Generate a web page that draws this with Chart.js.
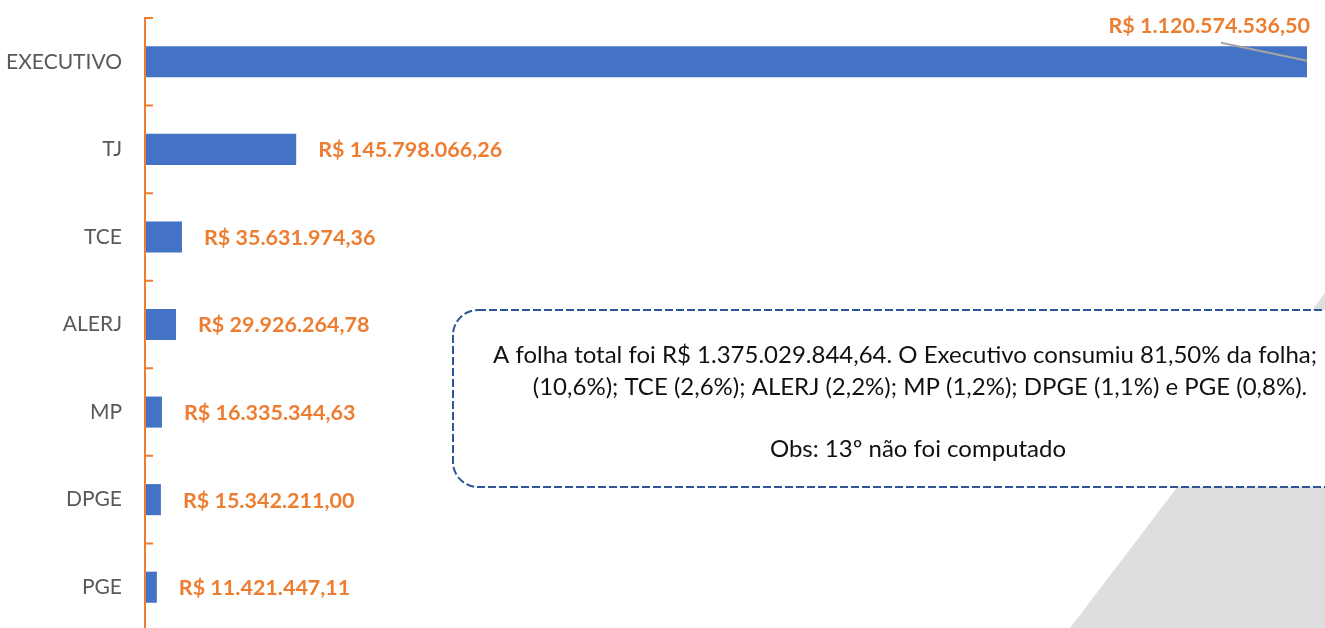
<!DOCTYPE html>
<html>
<head>
<meta charset="utf-8">
<script src="https://cdn.jsdelivr.net/npm/chart.js@4.4.0/dist/chart.umd.min.js"></script>
<style>
    html, body { margin: 0; padding: 0; background: #fff; overflow: hidden; }
    #wrap { position: relative; width: 1325px; height: 628px; overflow: hidden; }
    #wrap canvas { position: absolute; left: 0; top: 0; }
</style>
</head>
<body>
<div id="wrap"><canvas id="chart" width="1325" height="640"></canvas></div>
<script>
// Data
const categories = ['EXECUTIVO', 'TJ', 'TCE', 'ALERJ', 'MP', 'DPGE', 'PGE'];
const folha = [1120574536.50, 145798066.26, 35631974.36, 29926264.78, 16335344.63, 15342211.00, 11421447.11];
const noteLines = [
    'A folha total foi R$ 1.375.029.844,64. O Executivo consumiu 81,50% da folha;',
    '(10,6%); TCE (2,6%); ALERJ (2,2%); MP (1,2%); DPGE (1,1%) e PGE (0,8%).',
    'Obs: 13º não foi computado'
];

const orange = '#ED7D31';
const blue = '#4472C4';

// Brazilian money format: R$ 1.234.567,89
function formatBRL(v) {
    const parts = v.toFixed(2).split('.');
    const int = parts[0].replace(/\B(?=(\d{3})+(?!\d))/g, '.');
    return 'R$ ' + int + ',' + parts[1];
}

// Gray diagonal shape behind everything
const backdrop = {
    id: 'backdrop',
    beforeDraw(chart) {
        const ctx = chart.ctx;
        ctx.save();
        ctx.fillStyle = '#DEDEDE';
        ctx.beginPath();
        ctx.moveTo(1070, 628);
        ctx.lineTo(1325, 293);
        ctx.lineTo(1325, 640);
        ctx.lineTo(1070, 640);
        ctx.closePath();
        ctx.fill();
        ctx.restore();
    }
};

// Orange axis line with inner tick marks between categories
const axisTicks = {
    id: 'axisTicks',
    afterDatasetsDraw(chart) {
        const ctx = chart.ctx;
        const y = chart.scales.y;
        const area = chart.chartArea;
        const band = (y.getPixelForValue(1) - y.getPixelForValue(0));
        ctx.save();
        ctx.strokeStyle = orange;
        ctx.lineWidth = 2;
        ctx.beginPath();
        ctx.moveTo(area.left, area.top);
        ctx.lineTo(area.left, area.bottom);
        for (let i = 0; i <= categories.length; i++) {
            const py = y.getPixelForValue(i) - band / 2;
            ctx.moveTo(area.left - 1, py);
            ctx.lineTo(area.left + 8, py);
        }
        ctx.stroke();
        ctx.restore();
    }
};

// Value labels at the end of each bar
const valueLabels = {
    id: 'valueLabels',
    afterDatasetsDraw(chart) {
        const ctx = chart.ctx;
        const meta = chart.getDatasetMeta(0);
        ctx.save();
        ctx.font = 'bold 21.5px Lato';
        ctx.fillStyle = orange;
        ctx.textBaseline = 'middle';
        meta.data.forEach((bar, i) => {
            const text = formatBRL(folha[i]);
            const w = ctx.measureText(text).width;
            if (bar.x + 22 + w > chart.width) {
                // no room: put it above with a leader line
                ctx.textAlign = 'right';
                ctx.fillText(text, bar.x + 3, bar.y - 36);
                ctx.strokeStyle = '#A6A6A6';
                ctx.lineWidth = 2;
                ctx.beginPath();
                ctx.moveTo(bar.x - 86, bar.y - 19);
                ctx.lineTo(bar.x, bar.y - 1);
                ctx.stroke();
            } else {
                ctx.textAlign = 'left';
                ctx.fillText(text, bar.x + 22, bar.y + 1);
            }
        });
        ctx.restore();
    }
};

// Dashed rounded note box
const noteBox = {
    id: 'noteBox',
    afterDraw(chart) {
        const ctx = chart.ctx;
        const x = 453, y = 310, w = 930, h = 177, r = 25;
        ctx.save();
        ctx.beginPath();
        ctx.roundRect(x, y, w, h, r);
        ctx.fillStyle = '#fff';
        ctx.fill();
        ctx.setLineDash([8, 3]);
        ctx.lineWidth = 2;
        ctx.strokeStyle = '#2F5597';
        ctx.stroke();
        ctx.setLineDash([]);
        ctx.fillStyle = '#111';
        ctx.font = '24px Lato';
        ctx.textBaseline = 'middle';
        ctx.textAlign = 'left';
        ctx.fillText(noteLines[0], 493, 355);
        ctx.textAlign = 'center';
        ctx.fillText(noteLines[1], 920, 387);
        ctx.fillText(noteLines[2], 918, 449);
        ctx.restore();
    }
};

new Chart(document.getElementById('chart'), {
    type: 'bar',
    data: {
        labels: categories,
        datasets: [{
            data: folha,
            backgroundColor: blue,
            borderWidth: 0,
            categoryPercentage: 1,
            barPercentage: 0.355
        }]
    },
    options: {
        indexAxis: 'y',
        responsive: false,
        animation: false,
        events: [],
        layout: { autoPadding: false, padding: { top: 18, right: 18, bottom: 9, left: 0 } },
        plugins: {
            legend: { display: false },
            tooltip: { enabled: false }
        },
        scales: {
            x: {
                display: false,
                min: 0,
                max: folha[0]
            },
            y: {
                afterFit(scale) {
                    scale.width = 145;
                    // don't let label padding push the plot area in
                    scale.paddingTop = 0;
                    scale.paddingBottom = 0;
                },
                grid: { display: false, drawTicks: false },
                border: { display: false },
                ticks: {
                    padding: 23,
                    color: '#595959',
                    font: { family: 'Lato', size: 21 }
                }
            }
        }
    },
    plugins: [backdrop, axisTicks, valueLabels, noteBox]
});
</script>
</body>
</html>
